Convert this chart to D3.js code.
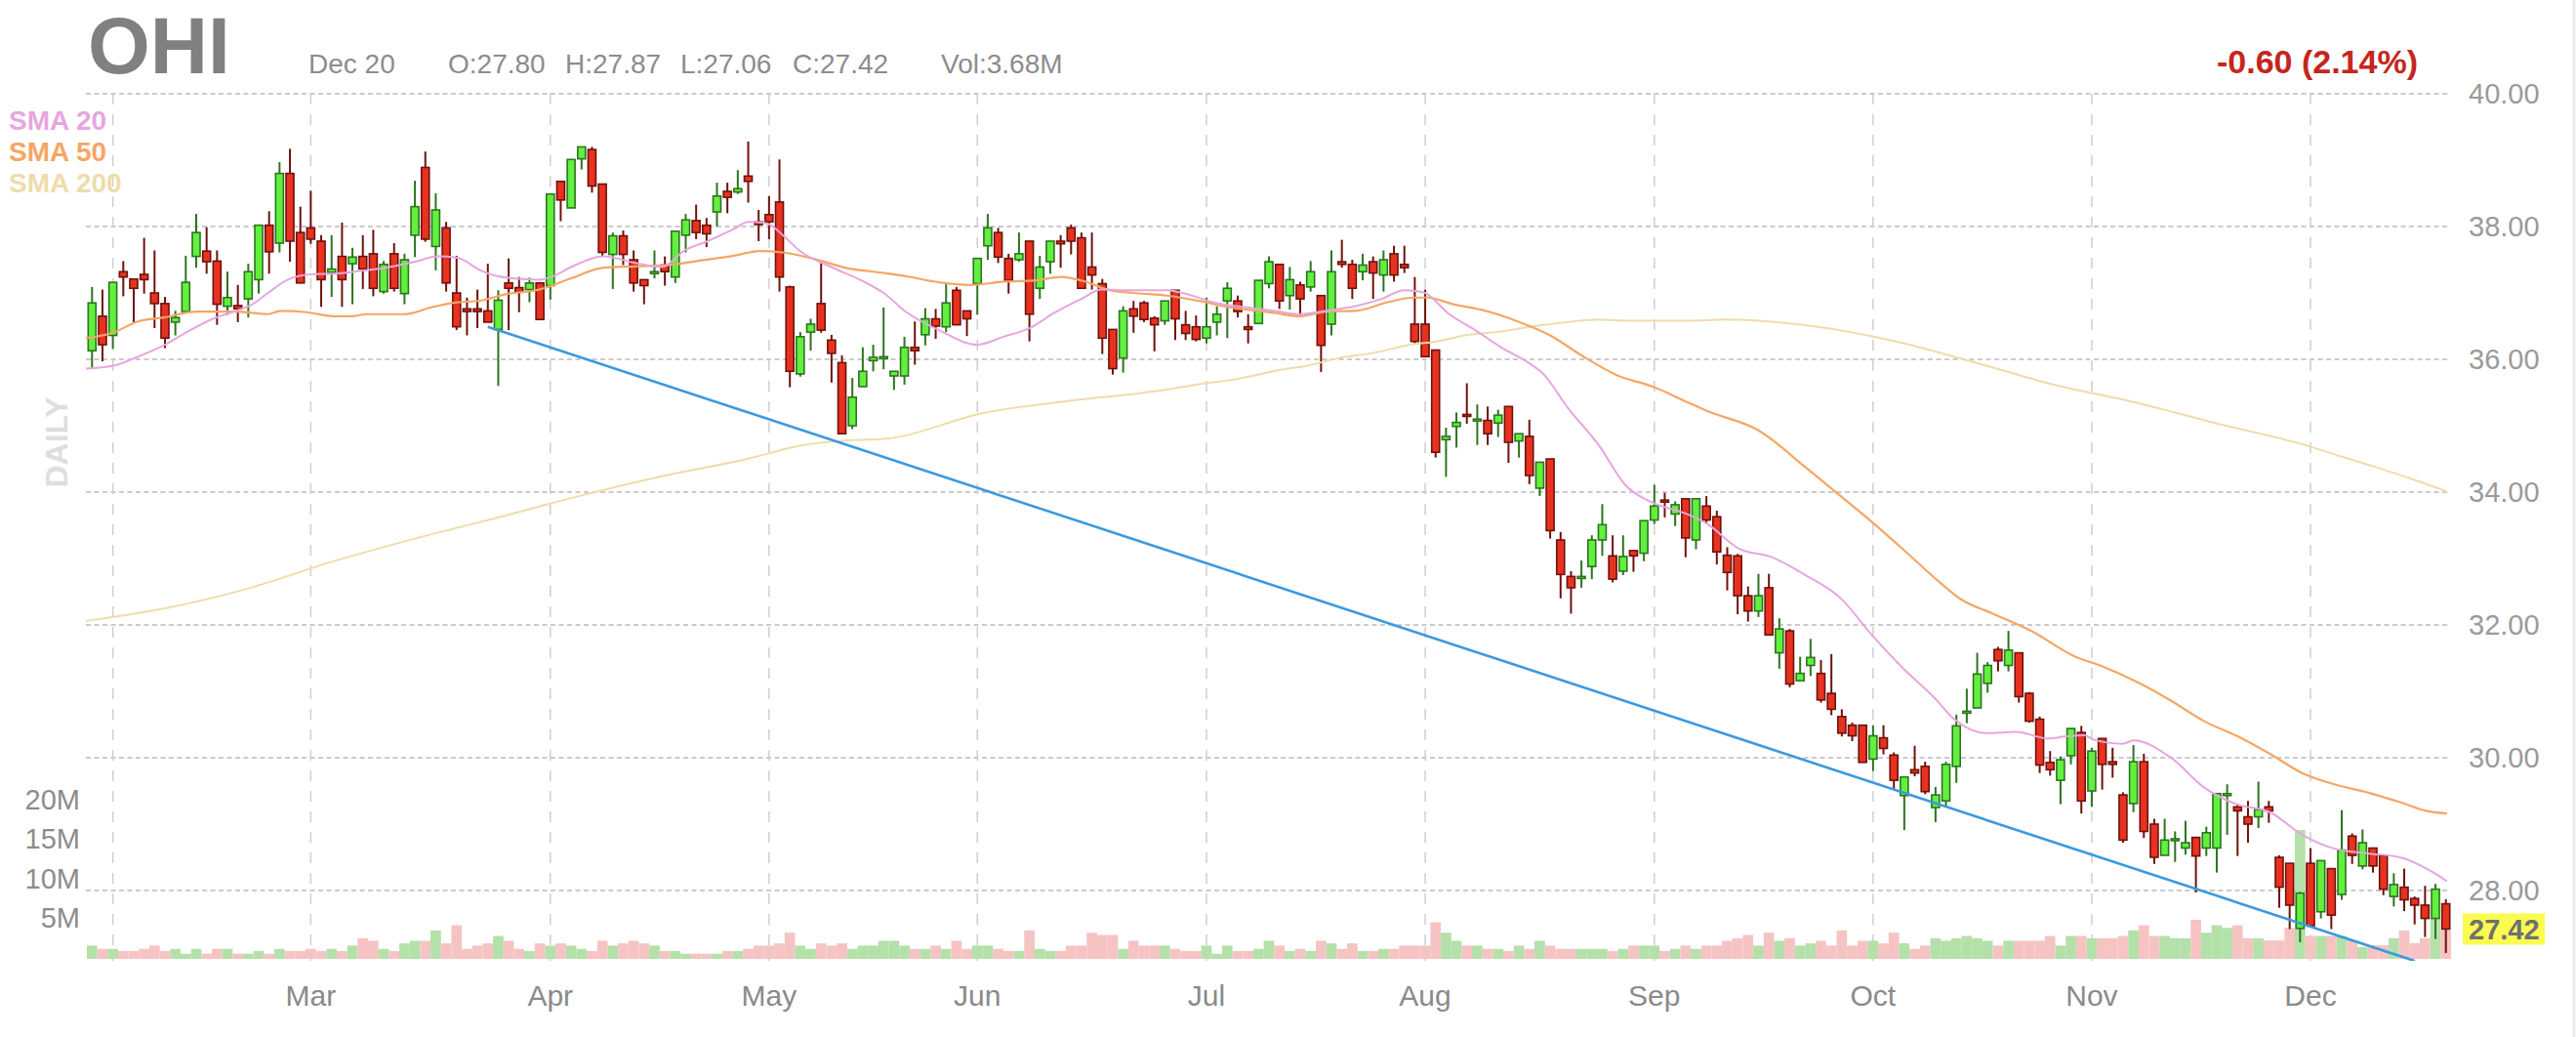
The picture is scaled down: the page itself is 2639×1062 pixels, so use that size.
<!DOCTYPE html>
<html>
<head>
<meta charset="utf-8">
<script src="https://cdn.jsdelivr.net/npm/d3@7"></script>
<style>
  body { margin: 0; background: #fff; }
  svg { display: block; font-family: "Liberation Sans", Arial, sans-serif; }
</style>
</head>
<body>
<div id="chart"></div>
<script>
var width = 2639, height = 1062

// OHI daily, Jan 28 2021 .. Dec 20 2021
var open = [36.13,36.65,36.36,37.32,37.21,37.28,37.00,36.84,36.56,36.72,
  37.55,37.63,37.48,36.80,36.81,36.91,37.20,38.02,37.75,38.80,
  37.91,37.98,37.78,37.31,37.55,37.44,37.55,37.59,37.02,37.59,
  36.99,37.87,38.89,37.70,37.98,37.00,36.76,36.76,36.73,36.45,
  37.15,37.08,37.05,37.15,37.11,38.68,38.28,39.02,39.16,38.64,
  37.58,37.86,37.50,37.20,37.29,37.42,37.24,37.87,38.09,38.02,
  38.22,38.53,38.52,38.76,38.07,38.18,38.37,37.09,35.78,36.41,
  36.84,36.29,35.95,35.00,35.59,35.98,36.02,35.75,35.75,36.18,
  36.37,36.61,36.49,37.04,36.73,37.14,37.71,37.91,37.52,37.50,
  37.78,37.07,37.47,37.78,37.98,37.83,37.39,37.14,36.45,36.02,
  36.76,36.85,36.62,36.58,37.04,36.52,36.49,36.32,36.56,36.88,
  36.88,36.49,36.54,37.14,37.43,36.96,37.12,37.09,36.96,36.53,
  37.47,37.43,37.32,37.47,37.27,37.59,37.43,36.53,36.53,36.14,
  34.79,34.99,35.17,35.08,35.08,35.04,35.29,34.77,34.84,34.06,
  34.50,33.28,32.73,32.70,32.88,33.28,33.04,32.81,33.12,33.08,
  33.58,33.88,33.67,33.90,33.28,33.79,33.63,33.05,33.04,32.44,
  32.21,32.56,31.58,31.91,31.16,31.39,31.27,30.97,30.62,30.49,
  30.49,29.98,30.30,30.04,29.43,29.82,29.87,29.25,29.35,29.87,
  30.68,30.75,31.12,31.63,31.39,31.58,30.97,30.58,29.93,29.66,
  30.03,30.38,29.50,30.29,29.94,29.44,29.31,29.94,29.00,28.53,
  28.76,28.64,28.80,28.64,28.64,29.43,29.26,29.11,29.11,29.26,
  28.50,28.41,27.43,28.41,27.68,28.33,27.94,28.82,28.37,28.64,
  28.53,27.91,28.05,27.88,27.78,27.58,27.80]

var high = [37.09,37.05,37.16,37.48,37.21,37.83,37.64,36.94,36.73,37.56,
  38.19,37.99,37.64,37.32,37.12,37.44,38.02,38.23,38.97,39.17,
  38.30,38.54,37.87,37.87,38.06,37.68,37.87,37.95,37.48,37.75,
  37.59,38.69,39.13,38.50,38.07,37.56,36.93,37.05,37.44,37.04,
  37.52,37.24,37.23,37.15,38.49,38.68,39.01,39.20,39.20,38.64,
  37.91,37.94,37.64,37.20,37.64,37.55,37.93,38.19,38.33,38.13,
  38.66,38.66,38.85,39.28,38.25,38.46,39.01,37.11,36.41,36.61,
  37.49,36.37,36.06,35.72,36.18,36.22,36.78,35.82,36.34,36.57,
  36.77,36.76,37.15,37.09,36.73,37.52,38.19,37.98,37.59,37.91,
  37.78,37.56,37.78,37.87,38.03,37.91,37.91,37.21,36.45,36.80,
  36.88,36.88,36.65,36.88,37.04,36.73,36.66,36.93,36.80,37.16,
  36.96,36.68,37.19,37.55,37.43,37.39,37.17,37.48,36.96,37.64,
  37.80,37.50,37.59,37.55,37.64,37.71,37.71,37.24,37.05,36.14,
  34.97,35.20,35.64,35.32,35.29,35.24,35.29,34.88,35.09,34.45,
  34.50,33.40,32.81,32.97,33.35,33.82,33.35,33.35,33.12,33.57,
  34.11,33.99,33.86,33.90,33.90,33.94,33.72,33.17,33.07,32.58,
  32.77,32.77,32.10,31.94,31.52,31.79,31.47,31.56,30.73,30.53,
  30.49,30.49,30.49,30.08,29.71,30.18,29.94,29.56,29.94,30.65,
  31.04,31.58,31.44,31.67,31.91,31.58,30.99,30.62,30.10,30.02,
  30.44,30.48,30.15,30.29,30.15,29.48,30.19,30.06,29.08,29.08,
  28.89,29.05,28.80,28.96,29.46,29.60,29.31,29.35,29.64,29.35,
  28.53,28.41,27.98,28.64,28.45,28.33,29.21,28.86,28.92,28.64,
  28.53,28.26,28.33,27.91,28.07,28.10,27.87]

var low = [35.87,35.97,36.16,36.95,36.56,36.99,36.47,36.17,36.36,36.72,
  37.38,37.29,36.52,36.67,36.56,36.63,36.99,37.29,37.61,37.47,
  37.15,37.74,36.79,36.94,36.79,36.83,37.06,36.95,36.99,37.02,
  36.83,37.54,37.77,37.34,37.02,36.44,36.36,36.47,36.56,35.60,
  36.44,36.71,36.86,36.60,36.90,38.08,38.28,38.86,38.51,37.56,
  37.06,37.42,37.02,36.83,37.22,37.11,37.15,37.61,37.81,37.69,
  38.00,38.20,38.49,38.36,37.78,37.81,37.02,35.58,35.74,36.13,
  36.40,35.65,34.88,34.95,35.59,35.82,35.85,35.54,35.62,35.92,
  36.21,36.31,36.41,36.52,36.35,36.67,37.50,37.45,36.99,37.47,
  36.27,36.91,37.29,37.38,37.58,37.07,37.05,36.08,35.77,35.80,
  36.40,36.56,36.12,36.52,36.29,36.29,36.27,36.24,36.36,36.32,
  36.63,36.24,36.54,37.07,36.76,36.75,36.66,37.02,35.81,36.36,
  37.38,36.91,37.19,36.91,37.02,37.17,37.30,36.24,36.04,34.52,
  34.23,34.67,35.03,34.71,34.71,34.83,34.44,34.52,34.12,33.94,
  33.30,32.40,32.17,32.56,32.69,33.04,32.64,32.75,32.80,32.96,
  33.52,33.62,33.49,33.02,33.14,33.54,32.91,32.52,32.16,32.05,
  32.12,31.85,31.34,31.06,31.16,31.23,30.83,30.64,30.32,30.25,
  29.93,29.80,30.05,29.53,28.91,29.72,29.45,29.03,29.26,29.62,
  30.52,30.75,30.98,31.30,31.30,30.83,30.53,29.77,29.73,29.30,
  29.90,29.16,29.26,29.52,29.70,28.72,29.18,28.79,28.40,28.53,
  28.43,28.54,27.97,28.52,28.27,28.84,28.52,28.72,28.94,29.02,
  27.74,27.42,27.22,27.47,27.58,27.42,27.86,28.40,28.32,28.27,
  27.93,27.76,27.69,27.49,27.30,27.27,27.06]

var close = [36.85,36.22,37.16,37.24,37.07,37.20,36.84,36.32,36.63,37.16,
  37.91,37.47,36.83,36.93,36.76,37.32,38.02,37.62,38.80,37.78,
  37.15,37.81,37.20,37.36,37.20,37.54,37.36,37.07,37.43,37.07,
  37.50,38.30,37.81,38.25,37.15,36.49,36.72,36.72,36.56,36.89,
  37.07,37.01,37.15,36.60,38.49,38.40,39.01,39.20,38.61,37.61,
  37.86,37.58,37.15,37.11,37.32,37.32,37.93,38.10,37.91,37.89,
  38.46,38.44,38.57,38.68,38.03,38.07,37.24,35.82,36.34,36.53,
  36.44,36.09,34.88,35.43,35.82,36.03,36.04,35.82,36.18,36.13,
  36.61,36.50,36.85,36.52,36.61,37.52,37.98,37.54,37.19,37.59,
  36.68,37.39,37.78,37.74,37.78,37.07,37.27,36.32,35.86,36.73,
  36.65,36.60,36.52,36.88,36.61,36.39,36.30,36.49,36.68,37.07,
  36.72,36.45,37.19,37.47,36.88,37.20,36.91,37.32,36.21,37.32,
  37.43,37.07,37.42,37.30,37.50,37.27,37.38,36.27,36.04,34.60,
  34.84,35.05,35.15,35.10,34.88,35.16,34.75,34.88,34.25,34.45,
  33.42,32.76,32.56,32.73,33.28,33.51,32.69,33.03,33.04,33.57,
  33.79,33.85,33.81,33.31,33.90,33.58,33.10,32.79,32.44,32.21,
  32.44,31.85,31.94,31.11,31.27,31.51,30.87,30.73,30.37,30.33,
  29.93,30.33,30.14,29.66,29.71,29.77,29.49,29.44,29.90,30.48,
  30.70,31.26,31.39,31.46,31.62,30.92,30.55,29.89,29.82,29.97,
  30.44,29.35,30.10,29.90,29.90,28.76,29.94,28.89,28.50,28.76,
  28.78,28.72,28.52,28.87,29.46,29.46,29.20,29.00,29.22,29.20,
  28.05,27.78,27.96,27.47,28.45,27.63,28.61,28.53,28.72,28.37,
  28.02,28.09,27.86,27.78,27.58,28.02,27.42]

// volume, millions
var volume = [1.69,1.27,1.27,1.0,1.0,1.27,1.69,1.0,1.27,0.66,
  1.27,0.66,1.27,1.27,0.66,0.66,1.0,0.66,1.27,1.0,
  1.0,1.27,1.0,1.27,1.0,1.69,2.63,2.30,1.27,1.0,
  1.97,2.30,2.30,3.62,1.97,4.28,1.27,1.69,1.97,2.92,
  2.30,1.27,1.0,1.97,1.69,1.97,1.69,1.27,1.0,2.30,
  1.69,1.97,2.30,1.97,1.69,1.0,1.0,0.66,0.66,0.66,
  0.66,1.0,1.0,1.27,1.69,1.69,1.97,3.33,1.69,1.27,
  1.97,1.69,1.97,1.27,1.69,1.69,2.30,2.30,1.69,1.27,
  1.27,1.69,1.27,2.30,1.27,1.69,1.69,1.27,1.0,1.0,
  3.62,1.27,1.0,1.0,1.69,1.69,3.33,3.04,3.04,1.27,
  2.30,1.69,1.69,1.69,1.27,1.0,1.0,1.69,0.66,1.69,
  1.0,1.0,1.27,2.30,1.69,1.0,1.27,1.0,2.30,1.97,
  1.27,1.97,1.0,1.0,1.27,1.27,1.69,1.69,1.69,4.65,
  3.33,2.30,1.69,1.69,1.27,1.27,1.0,1.69,1.27,2.30,
  1.69,1.27,1.27,1.27,1.27,1.27,1.0,1.27,1.69,1.69,
  1.69,1.0,1.27,1.69,1.27,1.69,1.69,2.30,2.63,3.04,
  1.69,3.33,2.30,2.63,1.69,1.97,2.30,1.69,3.62,1.69,
  2.30,2.30,1.97,3.33,1.97,1.27,1.69,2.63,2.30,2.63,
  2.92,2.63,2.30,1.69,2.30,2.30,2.30,2.30,2.92,1.69,
  2.92,2.92,2.63,2.63,2.63,2.92,3.62,4.28,2.92,2.92,
  2.63,2.63,4.98,3.33,4.28,3.95,4.28,2.63,2.63,2.34,
  2.34,3.95,16.4,2.92,2.92,2.92,2.92,2.34,1.52,1.73,
  1.73,2.63,3.62,2.0,2.63,5.19,3.68]

// moving averages as [day index, value]
var sma20 = [[-0.6,35.86],[2,35.90],[4.4,36.04],[6.9,36.21],[9.1,36.41],[11.6,36.61],[13.8,36.73],[15.4,36.83],
  [16.9,37.00],[18.8,37.20],[21,37.28],[23.2,37.29],[25.7,37.33],[28.2,37.38],[31,37.47],[33.2,37.55],[35.1,37.53],
  [37.3,37.34],[38.5,37.27],[40.4,37.22],[42.9,37.20],[44.4,37.26],[46,37.39],[49.1,37.55],[52.2,37.45],[54.7,37.39],
  [56.9,37.64],[59.1,37.78],[61.6,37.96],[63,38.07],[64.7,38.05],[66.6,37.83],[67.9,37.64],[71,37.39],[74.1,37.17],
  [76,37.00],[78.2,36.71],[81.3,36.44],[85,36.22],[87.5,36.34],[90,36.47],[92.5,36.71],[95,36.91],[96.9,37.05],
  [100,37.04],[103.2,37.04],[104.7,37.00],[107.9,36.85],[111,36.78],[113.5,36.73],[116,36.68],[118.5,36.73],
  [121.3,36.80],[123.8,36.91],[126,37.04],[127.8,37.01],[130.3,36.68],[132.8,36.44],[135.4,36.17],[137.9,35.95],
  [139.4,35.77],[141.6,35.29],[144.7,34.70],[147.2,34.11],[149.7,33.85],[152.8,33.69],[155,33.53],[158.1,33.15],
  [161.3,33.02],[164.4,32.76],[168.1,32.37],[170.6,31.90],[173.8,31.36],[176.9,30.90],[178.8,30.58],[181.9,30.37],
  [184.7,30.39],[187.8,30.29],[189.4,30.32],[191.3,30.34],[192.2,30.27],[195,30.21],[196,30.26],[199.7,29.99],
  [202.8,29.55],[205.9,29.30],[209.1,29.18],[212.2,28.84],[215.3,28.63],[218.4,28.56],[221.6,28.50],[224.7,28.28],
  [226.1,28.14]]

var sma50 = [[-0.6,36.32],[2,36.40],[4.4,36.57],[6.9,36.63],[10,36.72],[13.8,36.72],[16.9,36.68],[18.1,36.73],
  [20.6,36.71],[23.2,36.65],[25,36.65],[26.3,36.68],[30,36.68],[32.5,36.78],[34.7,36.85],[37.5,36.89],[39.7,36.98],
  [42.9,37.05],[46,37.22],[49.1,37.38],[52.2,37.40],[55.4,37.42],[58.5,37.49],[61.6,37.56],[64.1,37.63],[66.3,37.61],
  [69.4,37.51],[72.6,37.37],[75,37.32],[78.2,37.25],[81.3,37.16],[84.4,37.12],[87.5,37.17],[90.7,37.19],[93,37.24],
  [95.4,37.17],[97.5,37.05],[100,37.00],[103.2,36.96],[106.3,36.88],[109.4,36.78],[113.5,36.70],[116,36.65],
  [118.5,36.72],[121.3,36.73],[124.4,36.86],[126.9,36.93],[128.2,36.93],[130.7,36.83],[133.8,36.73],[136.9,36.57],
  [140,36.36],[143.2,36.04],[146.3,35.77],[150,35.58],[152.8,35.38],[155.1,35.22],[160,34.93],[164.7,34.35],
  [167.5,33.99],[170.6,33.59],[173.8,33.15],[176.9,32.71],[179.4,32.39],[182.5,32.17],[186.3,31.90],[190.3,31.53],
  [192.8,31.39],[196.6,31.12],[199.7,30.85],[202.8,30.55],[205.9,30.33],[209.1,30.06],[212.2,29.77],[215.3,29.60],
  [218.4,29.48],[221.6,29.33],[224.1,29.20],[226.1,29.16]]

var sma200 = [[-0.6,32.06],[7,32.25],[15,32.55],[23,32.95],[31,33.30],[39,33.62],[47,33.95],[55,34.25],
  [63.2,34.51],[67.9,34.70],[72.6,34.78],[76,34.80],[85.8,35.20],[93.7,35.37],[102.5,35.53],[106.9,35.64],
  [109.4,35.69],[114.4,35.85],[116.6,35.90],[119.7,36.02],[122.8,36.09],[126.6,36.22],[129.1,36.27],[132.2,36.37],
  [135.3,36.42],[138.5,36.50],[141.6,36.56],[144.7,36.60],[147.8,36.58],[152.8,36.58],[156.8,36.60],[164.7,36.51],
  [172.6,36.29],[180.4,35.97],[188.3,35.62],[196.2,35.35],[204.1,35.03],[212,34.73],[216.1,34.53],[219.2,34.38],
  [223.6,34.15],[226.1,34.01]]

var trend = [[38, 36.49], [223, 26.94]]

var priceTicks = [28, 30, 32, 34, 36, 38, 40]
var volTicks = [5, 10, 15, 20]
var holidays = ['2021-02-15','2021-04-02','2021-05-31','2021-07-05','2021-09-06','2021-11-25']

var info = [['Dec 20', 316], ['O:27.80', 459], ['H:27.87', 579], ['L:27.06', 697], ['C:27.42', 812], ['Vol:3.68M', 964]]
var smaLegend = [['SMA 20', '#e6a6de'], ['SMA 50', '#f5a665'], ['SMA 200', '#eedcac']]

// trading days
var dates = []
for (var d = new Date(Date.UTC(2021, 0, 28)); dates.length < close.length; d.setUTCDate(d.getUTCDate() + 1)){
  var s = d.toISOString().slice(0, 10), wd = d.getUTCDay()
  if (wd > 0 && wd < 6 && holidays.indexOf(s) < 0) dates.push(s)
}
var monthTicks = d3.range(1, dates.length).filter(function(i){ return dates[i].slice(5, 7) != dates[i - 1].slice(5, 7) })
var fmtMonth = d3.utcFormat('%b')

var plotL = 88, plotR = 2512, plotT = 96, plotB = 984

var x = d3.scaleLinear().domain([0, close.length - 1]).range([94.3, 2505.7])
var y = d3.scaleLinear().domain([28, 40]).range([912, 96])
var yv = d3.scaleLinear().domain([0, 20]).range([982, 821])

var svg = d3.select('#chart').append('svg')
    .attr('width', width).attr('height', height)

svg.append('defs').append('clipPath').attr('id', 'plot')
  .append('rect').attr('x', plotL).attr('y', plotT - 10).attr('width', plotR - plotL).attr('height', plotB - plotT + 10)

// grid
svg.append('g').selectAll('line').data(priceTicks).join('line')
    .attr('x1', plotL).attr('x2', 2508)
    .attr('y1', y).attr('y2', y)
    .attr('stroke', '#cbcbcb').attr('stroke-width', 2).attr('stroke-dasharray', '5,3.5')

svg.append('g').selectAll('line').data(monthTicks).join('line')
    .attr('x1', function(i){ return x(i) }).attr('x2', function(i){ return x(i) })
    .attr('y1', plotT).attr('y2', plotB)
    .attr('stroke', '#cfcfcf').attr('stroke-width', 1.5).attr('stroke-dasharray', '11,10')

var idx = d3.range(close.length)
var up = function(i){ return close[i] >= open[i] }

// volume
svg.append('g').selectAll('rect').data(idx).join('rect')
    .attr('x', function(i){ return x(i) - 5.34 })
    .attr('width', 10.68)
    .attr('y', function(i){ return yv(volume[i]) })
    .attr('height', function(i){ return yv(0) - yv(volume[i]) })
    .attr('fill', function(i){ return up(i) ? '#b4e0a9' : '#f6c3c3' })

// candles
var cg = svg.append('g').attr('clip-path', 'url(#plot)')
cg.selectAll('line').data(idx).join('line')
    .attr('x1', function(i){ return x(i) }).attr('x2', function(i){ return x(i) })
    .attr('y1', function(i){ return y(high[i]) }).attr('y2', function(i){ return y(low[i]) })
    .attr('stroke', function(i){ return up(i) ? '#2d7420' : '#6e120c' })
    .attr('stroke-width', 2)

cg.selectAll('rect').data(idx).join('rect')
    .attr('x', function(i){ return x(i) - 4 })
    .attr('width', 8)
    .attr('y', function(i){ return y(Math.max(open[i], close[i])) })
    .attr('height', function(i){ return Math.max(2, Math.abs(y(open[i]) - y(close[i]))) })
    .attr('fill', function(i){ return up(i) ? '#62f03e' : '#e8321f' })
    .attr('stroke', function(i){ return up(i) ? '#2d7420' : '#6e120c' })
    .attr('stroke-width', 1.6)

// moving averages and trend line
var line = d3.line()
    .x(function(d){ return x(d[0]) })
    .y(function(d){ return y(d[1]) })
    .curve(d3.curveMonotoneX)

var lg = svg.append('g').attr('clip-path', 'url(#plot)').attr('fill', 'none')
lg.append('path').datum(sma200).attr('d', line).attr('stroke', '#eedcac').attr('stroke-width', 2)
lg.append('path').datum(sma50).attr('d', line).attr('stroke', '#f5a665').attr('stroke-width', 2.2)
lg.append('path').datum(sma20).attr('d', line).attr('stroke', '#e6a6de').attr('stroke-width', 2)
lg.append('path').datum(trend).attr('d', d3.line().x(function(d){ return x(d[0]) }).y(function(d){ return y(d[1]) }))
    .attr('stroke', '#3b9ade').attr('stroke-width', 2.6)

// axes text
svg.append('g').selectAll('text').data(priceTicks).join('text')
    .attr('x', 2529).attr('y', y).attr('dy', '0.35em')
    .attr('font-size', 29).attr('fill', '#9a9a9a')
    .text(function(d){ return d.toFixed(2) })

svg.append('g').selectAll('text').data(volTicks).join('text')
    .attr('x', 82).attr('y', function(d){ return yv(d) - 2 }).attr('dy', '0.35em')
    .attr('text-anchor', 'end')
    .attr('font-size', 29).attr('fill', '#8c8c8c')
    .text(function(d){ return d + 'M' })

svg.append('g').selectAll('text').data(monthTicks.slice(1)).join('text')
    .attr('x', function(i){ return x(i) }).attr('y', 1030)
    .attr('text-anchor', 'middle')
    .attr('font-size', 30).attr('fill', '#8a8a8a')
    .text(function(i){ return fmtMonth(new Date(dates[i])) })

// last price tag
var last = close.length - 1
svg.append('rect').attr('x', 2523).attr('y', y(close[last]) - 16).attr('width', 84).attr('height', 32)
    .attr('fill', '#fbfb4f')
svg.append('text').attr('x', 2529).attr('y', y(close[last])).attr('dy', '0.35em')
    .attr('font-size', 29).attr('font-weight', 'bold').attr('fill', '#707070')
    .text(close[last].toFixed(2))

// header
svg.append('text').attr('x', 90).attr('y', 75)
    .attr('font-size', 82).attr('font-weight', 'bold').attr('fill', '#808080')
    .text('OHI')

svg.append('g').selectAll('text').data(info).join('text')
    .attr('x', function(d){ return d[1] }).attr('y', 75)
    .attr('font-size', 28).attr('fill', '#8c8c8c')
    .text(function(d){ return d[0] })

svg.append('text').attr('x', 2477).attr('y', 75).attr('text-anchor', 'end')
    .attr('font-size', 34).attr('font-weight', 'bold').attr('fill', '#c4261d')
    .text('-0.60 (2.14%)')

svg.append('g').selectAll('text').data(smaLegend).join('text')
    .attr('x', 9).attr('y', function(d, i){ return 133 + i * 32 })
    .attr('font-size', 28).attr('font-weight', 'bold')
    .attr('fill', function(d){ return d[1] })
    .text(function(d){ return d[0] })

svg.append('text').attr('transform', 'translate(69,453) rotate(-90)')
    .attr('text-anchor', 'middle')
    .attr('font-size', 32).attr('font-weight', 'bold').attr('fill', '#dedede')
    .text('DAILY')

svg.append('line').attr('x1', 2637).attr('x2', 2637).attr('y1', 0).attr('y2', height)
    .attr('stroke', '#ececec').attr('stroke-width', 3)
</script>
</body>
</html>
